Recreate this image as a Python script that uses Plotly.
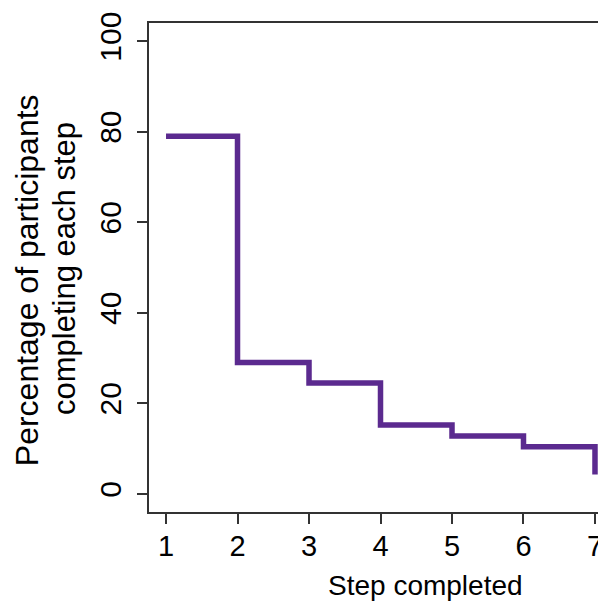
import plotly.graph_objects as go

steps = [1, 2, 3, 4, 5, 6, 7]
pct = [79, 29, 24.5, 15.2, 12.8, 10.4, 4.3]
x_ticks = [1, 2, 3, 4, 5, 6, 7]
y_ticks = [0, 20, 40, 60, 80, 100]
y_title_lines = ["Percentage of participants", "completing each step"]
x_title = "Step completed"

FONT = "Liberation Sans, Arial, Helvetica, sans-serif"
AX = "#333333"

fig = go.Figure()
fig.add_trace(go.Scatter(
    x=steps, y=pct, mode="lines", line_shape="hv",
    line=dict(color="#5B2A8F", width=5.5),
    showlegend=False, hoverinfo="skip",
))

fig.update_layout(
    width=606, height=603,
    margin=dict(l=141, r=8, t=15, b=99, autoexpand=False),
    paper_bgcolor="white", plot_bgcolor="white",
    font=dict(family=FONT, color="black"),
    xaxis=dict(
        range=[0.762, 7.154], tickmode="array", tickvals=x_ticks,
        ticktext=[str(v) for v in x_ticks],
        showgrid=False, zeroline=False,
        showline=True, linecolor=AX, linewidth=2, mirror=True,
        ticks="outside", ticklen=10, tickwidth=2, tickcolor=AX,
        tickfont=dict(size=29, family=FONT, color="black"),
        ticklabelstandoff=-3, automargin=False,
    ),
    yaxis=dict(
        range=[-4, 104], tickmode="array", tickvals=y_ticks,
        ticktext=[str(v) for v in y_ticks],
        showgrid=False, zeroline=False,
        showline=True, linecolor=AX, linewidth=2,
        ticks="outside", ticklen=10, tickwidth=2, tickcolor=AX,
        tickangle=-90,
        tickfont=dict(size=30, family=FONT, color="black"),
        ticklabelstandoff=4, automargin=False,
    ),
    annotations=[
        dict(text=x_title, xref="paper", yref="paper",
             x=0.604, y=0, yshift=-56, xanchor="center", yanchor="top",
             showarrow=False, font=dict(size=28, family=FONT, color="black")),
        dict(text=y_title_lines[0],
             xref="paper", yref="paper", x=0, xshift=-122, y=0.474,
             xanchor="center", yanchor="middle", textangle=-90,
             showarrow=False, font=dict(size=32, family=FONT, color="black")),
        dict(text=y_title_lines[1],
             xref="paper", yref="paper", x=0, xshift=-84, y=0.497,
             xanchor="center", yanchor="middle", textangle=-90,
             showarrow=False, font=dict(size=31, family=FONT, color="black")),
    ],
)

fig.write_html("out.html")
